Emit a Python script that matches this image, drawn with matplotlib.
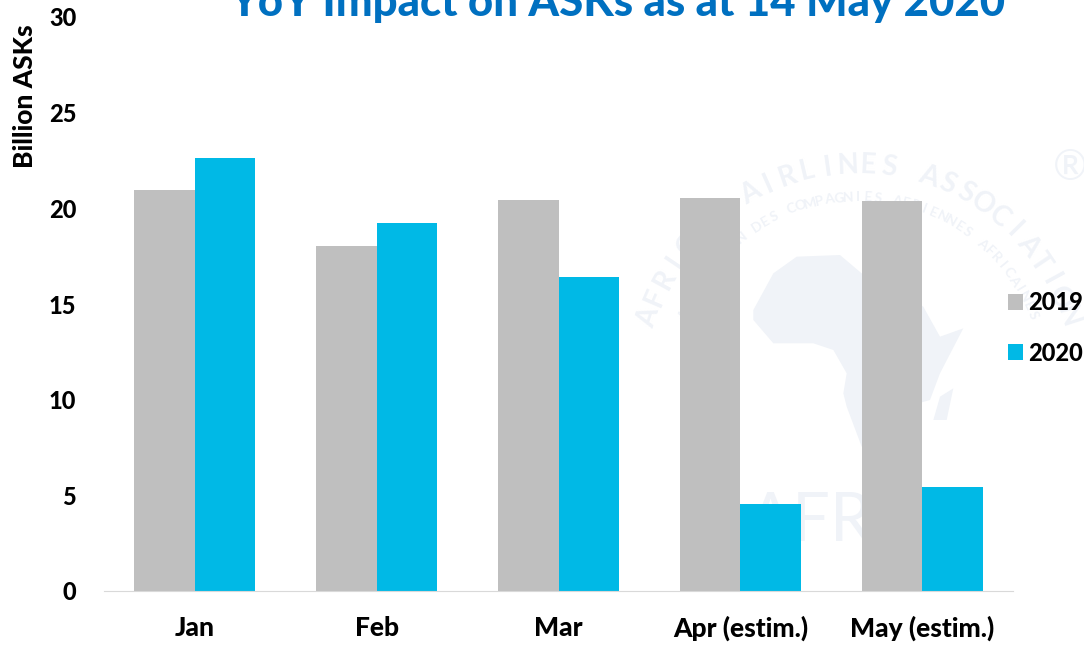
import matplotlib
matplotlib.use("Agg")
import matplotlib.pyplot as plt
from matplotlib.patches import Polygon
import numpy as np

months = ["Jan", "Feb", "Mar", "Apr (estim.)", "May (estim.)"]
asks_2019 = [20.95, 18.05, 20.45, 20.55, 20.4]
asks_2020 = [22.65, 19.25, 16.4, 4.55, 5.45]
y_ticks = [0, 5, 10, 15, 20, 25, 30]

GREY = "#bfbfbf"
BLUE = "#00b9e6"
WATER = "#f0f3f8"
W, H = 1084, 645
HEAVY = 900

plt.rcParams["font.family"] = ["Lato", "DejaVu Sans"]


def fx(px):
    return px / W


def fy(py):
    return 1 - py / H


def arc_text(fig, s, cx, cy, r, a0, a1, size):
    # faint logo lettering round a circle, angles in degrees from vertical
    for ch, a in zip(s, np.linspace(a0, a1, len(s))):
        t = np.radians(a)
        fig.text(fx(cx + r * np.sin(t)), fy(cy - r * np.cos(t)), ch, rotation=-a, fontsize=size,
                 color=WATER, fontweight="bold", ha="center", va="center", rotation_mode="anchor")


def logo(fig):
    # outline of the watermark, in zoom crop pixels
    africa = [(340, 510), (400, 400), (470, 350), (600, 345), (665, 400), (850, 500), (900, 590), (970, 565),
              (900, 700), (870, 780), (800, 800), (700, 920), (665, 920), (620, 800), (610, 760), (620, 700),
              (580, 630), (520, 610), (400, 610), (340, 540)]
    madagascar = [(940, 745), (920, 840), (880, 840), (900, 770)]
    for pts in (africa, madagascar):
        xy = [(fx(640 + a / 3), fy(140 + b / 3)) for a, b in pts]
        fig.add_artist(Polygon(xy, closed=True, color=WATER, lw=0, transform=fig.transFigure))
    arc_text(fig, "AFRICAN AIRLINES ASSOCIATION", 858, 385, 220, -72, 72, 20)
    arc_text(fig, "ASSOCIATION DES COMPAGNIES AERIENNES AFRICAINES", 858, 385, 188, -68, 68, 10)
    fig.text(fx(855), fy(522), "AFRAA", fontsize=48, color=WATER, ha="center", va="center")
    fig.text(fx(1070), fy(168), "®", fontsize=30, color=WATER, ha="center", va="center")


fig = plt.figure(figsize=(W / 100, H / 100), dpi=100)
logo(fig)
ax = fig.add_axes([fx(104), fy(591), (1013 - 104) / W, (591 - 17) / H])
ax.set_zorder(5)
ax.patch.set_alpha(0)

x = np.arange(len(months))
w = 0.333
ax.bar(x - w / 2, asks_2019, w, color=GREY, label="2019")
ax.bar(x + w / 2, asks_2020, w, color=BLUE, label="2020")

ax.set_xlim(-0.5, 4.5)
ax.set_ylim(0, 30)
ax.set_xticks(x)
ax.set_xticklabels(months, fontsize=19, fontweight=HEAVY)
ax.set_yticks(y_ticks)
ax.set_yticklabels(y_ticks, fontsize=17, fontweight=HEAVY)
ax.tick_params(length=0)
ax.tick_params(axis="x", pad=18)
ax.tick_params(axis="y", pad=20)
for s in ["top", "right", "left"]:
    ax.spines[s].set_visible(False)
ax.spines["bottom"].set_color("#d9d9d9")

fig.text(fx(25), fy(96), "Billion ASKs", rotation=90, fontsize=19, fontweight=HEAVY, ha="center", va="center")
fig.text(fx(617), fy(3), "YoY Impact on ASKs as at 14 May 2020", fontsize=31.5, fontweight=HEAVY,
         color="#0070c0", ha="center", va="center")

ax.legend(loc="center left", bbox_to_anchor=(fx(1008), fy(328)), bbox_transform=fig.transFigure,
          frameon=False, prop={"weight": HEAVY, "size": 17},
          handlelength=0.64, handleheight=0.64, handletextpad=0.2, labelspacing=1.15, borderpad=0, borderaxespad=0)

fig.savefig("out.png", dpi=100)
